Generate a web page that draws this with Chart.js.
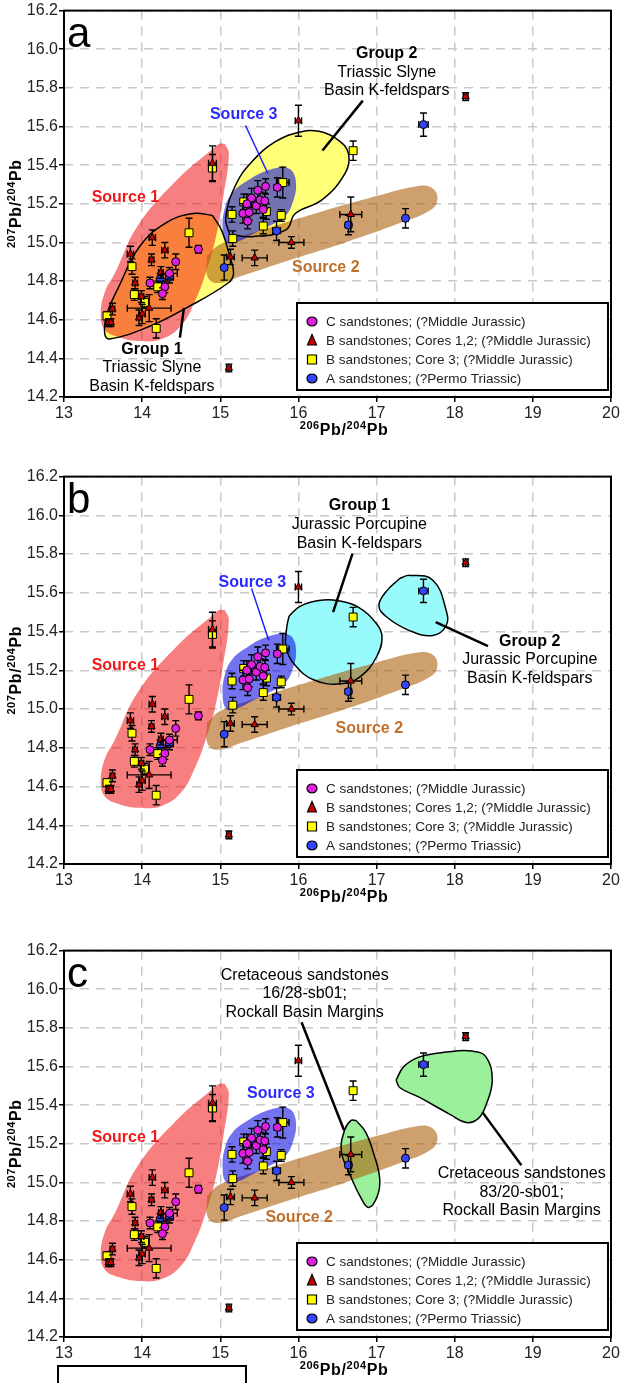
<!DOCTYPE html>
<html><head><meta charset="utf-8">
<script src="https://cdn.jsdelivr.net/npm/chart.js@4.4.0/dist/chart.umd.min.js"></script>
<style>
html,body{margin:0;padding:0;background:#fff;}
body{width:624px;height:1383px;position:relative;overflow:hidden;}
canvas{position:absolute;left:0;}
#box{position:absolute;left:57px;top:1365px;width:186px;height:40px;border:2px solid #000;}
</style></head><body>
<canvas id="ca" width="624" height="462" style="top:0px"></canvas>
<canvas id="cb" width="624" height="462" style="top:466px"></canvas>
<canvas id="cc" width="624" height="443" style="top:940px"></canvas>
<div id="box"></div>
<script>
// ---------- axes ----------
const xMin = 13, xMax = 20, xStep = 1;
const yMin = 14.2, yMax = 16.2, yStep = 0.2;
const xTitleParts = [['206', 1], ['Pb/', 0], ['204', 1], ['Pb', 0]];
const yTitleParts = [['207', 1], ['Pb/', 0], ['204', 1], ['Pb', 0]];

const legendLabels = [
  'C sandstones; (?Middle Jurassic)',
  'B sandstones; Cores 1,2; (?Middle Jurassic)',
  'B sandstones; Core 3; (?Middle Jurassic)',
  'A sandstones; (?Permo Triassic)'
];

// ---------- C sandstones (magenta circles) ----------
const cX  = [14.72,14.43,14.35,14.10,14.29,14.26,15.73,15.58,15.48,15.40,15.34,15.29,15.37,15.35,15.46,15.51,15.57,15.55];
const cY  = [14.965,14.90,14.84,14.79,14.77,14.735,15.285,15.29,15.27,15.23,15.20,15.15,15.155,15.11,15.19,15.22,15.215,15.17];
const cXe = [0.03,0.03,0.10,0.03,0.03,0.03,0.04,0.03,0.03,0.03,0.03,0.03,0.03,0.03,0.03,0.03,0.03,0.03];
const cYe = [0.02,0.04,0.03,0.03,0.03,0.03,0.05,0.04,0.05,0.05,0.05,0.05,0.04,0.04,0.04,0.04,0.04,0.04];

// ---------- B sandstones cores 1,2 (red triangles) ----------
const bX  = [14.90,14.13,14.29,13.85,14.12,14.24,13.91,13.99,14.09,13.62,13.57,13.60,13.96,14.00,15.11,16.00,15.13,15.44,15.91,16.67,18.14];
const bY  = [15.41,15.025,14.96,14.94,14.91,14.845,14.79,14.72,14.66,14.655,14.585,14.585,14.61,14.63,14.35,15.63,14.925,14.92,15.00,15.145,15.755];
const bXe = [0.05,0.04,0.04,0.04,0.03,0.03,0.03,0.03,0.28,0.03,0.03,0.03,0.03,0.04,0.03,0.04,0.05,0.16,0.16,0.14,0.03];
const bYe = [0.09,0.04,0.04,0.04,0.03,0.03,0.03,0.03,0.07,0.03,0.02,0.02,0.04,0.05,0.02,0.08,0.04,0.04,0.03,0.09,0.02];

// ---------- B sandstones core 3 (yellow squares) ----------
const sX  = [14.90,14.60,13.87,14.20,13.90,14.03,13.55,14.18,15.15,15.16,15.78,15.55,15.80,15.30,15.59,16.70];
const sY  = [15.385,15.05,14.875,14.77,14.73,14.69,14.62,14.555,15.145,15.02,15.14,15.085,15.31,15.21,15.16,15.475];
const sXe = [0.05,0.03,0.03,0.03,0.03,0.03,0.03,0.04,0.03,0.03,0.03,0.04,0.08,0.04,0.04,0.04];
const sYe = [0.07,0.075,0.04,0.03,0.03,0.03,0.02,0.05,0.04,0.04,0.03,0.04,0.08,0.04,0.04,0.05];

// ---------- A sandstones (blue circles) ----------
const aX  = [14.23,14.35,15.05,15.72,16.64,17.37,17.60];
const aY  = [14.81,14.82,14.87,15.06,15.09,15.125,15.61];
const aXe = [0.03,0.05,0.03,0.05,0.04,0.03,0.06];
const aYe = [0.03,0.03,0.065,0.05,0.05,0.05,0.06];

// ---------- field outlines (data units) ----------
const source1 = [[15.06,15.51],[15.11,15.46],[15.04,15.24],[14.94,15.02],[14.82,14.85],[14.68,14.70],[14.50,14.57],[14.25,14.50],[13.95,14.49],[13.70,14.51],[13.52,14.55],[13.47,14.63],[13.52,14.74],[13.65,14.84],[13.95,15.09],[14.46,15.33],[14.89,15.48],[14.98,15.51]];
const source2 = [[14.83,14.93],[15.0,14.99],[15.5,15.06],[16.3,15.16],[17.0,15.24],[17.5,15.29],[17.70,15.285],[17.78,15.23],[17.70,15.17],[17.3,15.10],[16.6,15.00],[15.9,14.91],[15.3,14.83],[14.97,14.79],[14.84,14.82]];
const source3 = [[15.80,15.395],[15.92,15.37],[15.97,15.30],[15.93,15.21],[15.84,15.14],[15.65,15.09],[15.45,15.05],[15.20,15.00],[15.08,15.00],[15.03,15.07],[15.06,15.18],[15.16,15.26],[15.35,15.32],[15.55,15.365]];
const slyne1  = [[14.90,15.14],[15.02,15.06],[15.12,14.93],[15.17,14.84],[15.10,14.79],[14.56,14.66],[14.09,14.565],[13.58,14.50],[13.52,14.53],[13.55,14.63],[13.70,14.77],[13.97,14.98],[14.30,15.10],[14.65,15.15]];
const slyne2  = [[15.12,15.04],[15.07,15.13],[15.20,15.30],[15.41,15.42],[15.70,15.52],[16.01,15.57],[16.26,15.575],[16.51,15.53],[16.64,15.46],[16.60,15.36],[16.30,15.22],[15.96,15.15],[15.84,15.065],[15.41,15.03]];
const porc1   = [[15.88,15.48],[16.02,15.53],[16.26,15.56],[16.50,15.56],[16.75,15.53],[17.00,15.44],[17.07,15.37],[17.00,15.27],[16.80,15.17],[16.55,15.13],[16.20,15.15],[15.95,15.23],[15.84,15.32],[15.85,15.42]];
const porc2   = [[17.30,15.675],[17.42,15.69],[17.72,15.665],[17.89,15.51],[17.89,15.43],[17.72,15.38],[17.42,15.405],[17.13,15.475],[17.03,15.535],[17.13,15.61]];
const creta1  = [[16.74,15.32],[16.86,15.26],[16.97,15.14],[17.04,15.02],[17.01,14.93],[16.90,14.87],[16.80,14.92],[16.66,15.04],[16.55,15.16],[16.59,15.27],[16.67,15.32]];
const creta2  = [[17.25,15.53],[17.35,15.60],[17.55,15.65],[17.90,15.675],[18.22,15.68],[18.40,15.65],[18.48,15.53],[18.40,15.40],[18.30,15.33],[18.15,15.31],[17.95,15.35],[17.55,15.44],[17.30,15.49]];

// ---------- styles ----------
const FONT = '"Liberation Sans", Arial, sans-serif';
const COL = {
  yellowFill: '#ffff78', red: 'rgba(242,0,0,0.5)', blue: 'rgba(0,0,225,0.55)',
  brown: 'rgba(172,97,13,0.6)', cyan: 'rgb(152,250,250)', green: 'rgb(155,240,155)',
  s1Text: '#f01818', s2Text: '#c0702a', s3Text: '#2a2aff'
};

function pts(xs, ys) { return xs.map((x, i) => ({x: x, y: ys[i]})); }
function shapeDs(pairs, fillColor, borderColor, borderWidth, order) {
  const d = pairs.map(p => ({x: p[0], y: p[1]}));
  d.push({x: pairs[0][0], y: pairs[0][1]});
  return {
    type: 'line', data: d, fill: fillColor ? 'shape' : false,
    backgroundColor: fillColor || 'rgba(0,0,0,0)',
    borderColor: borderColor || 'rgba(0,0,0,0)', borderWidth: borderWidth || 0,
    tension: 0.42, pointRadius: 0, pointHoverRadius: 0, pointHitRadius: 0,
    showLine: true, order: order, isShape: true
  };
}
function pointDatasets() {
  return [
    {label: legendLabels[0], data: pts(cX, cY), errX: cXe, errY: cYe, pointStyle: 'circle', pointRadius: 4,
     backgroundColor: '#e020e0', borderColor: '#000', borderWidth: 1, showLine: false, order: 0, mk: 'circle'},
    {label: legendLabels[1], data: pts(bX, bY), errX: bXe, errY: bYe, pointStyle: 'triangle', pointRadius: 4.2,
     backgroundColor: '#cc0000', borderColor: '#000', borderWidth: 1, showLine: false, order: 1, mk: 'triangle'},
    {label: legendLabels[2], data: pts(sX, sY), errX: sXe, errY: sYe, pointStyle: 'rect', pointRadius: 5.6,
     backgroundColor: '#ffff00', borderColor: '#000', borderWidth: 1, showLine: false, order: 2, mk: 'rect'},
    {label: legendLabels[3], data: pts(aX, aY), errX: aXe, errY: aYe, pointStyle: 'circle', pointRadius: 4,
     backgroundColor: '#3344ff', borderColor: '#000', borderWidth: 1, showLine: false, order: 3, mk: 'circle'}
  ];
}

const errorBarPlugin = {
  id: 'errbars',
  beforeDatasetDraw(chart, args) {
    const ds = chart.data.datasets[args.index];
    if (!ds.errX) return;
    const xs = chart.scales.x, ys = chart.scales.y, ctx = chart.ctx, a = chart.chartArea;
    ctx.save();
    ctx.beginPath(); ctx.rect(a.left, a.top, a.right - a.left, a.bottom - a.top); ctx.clip();
    ctx.strokeStyle = '#000'; ctx.lineWidth = 1.4;
    const cap = 3.5;
    ds.data.forEach((p, i) => {
      const px = xs.getPixelForValue(p.x), py = ys.getPixelForValue(p.y);
      const x1 = xs.getPixelForValue(p.x - ds.errX[i]), x2 = xs.getPixelForValue(p.x + ds.errX[i]);
      const y1 = ys.getPixelForValue(p.y - ds.errY[i]), y2 = ys.getPixelForValue(p.y + ds.errY[i]);
      ctx.beginPath();
      ctx.moveTo(x1, py); ctx.lineTo(x2, py);
      ctx.moveTo(x1, py - cap); ctx.lineTo(x1, py + cap);
      ctx.moveTo(x2, py - cap); ctx.lineTo(x2, py + cap);
      ctx.moveTo(px, y1); ctx.lineTo(px, y2);
      ctx.moveTo(px - cap, y1); ctx.lineTo(px + cap, y1);
      ctx.moveTo(px - cap, y2); ctx.lineTo(px + cap, y2);
      ctx.stroke();
    });
    ctx.restore();
  }
};

function drawMarker(ctx, mk, color, x, y) {
  ctx.fillStyle = color; ctx.strokeStyle = '#000'; ctx.lineWidth = 1.2;
  ctx.beginPath();
  if (mk === 'circle') { ctx.ellipse(x, y, 5, 4.5, 0, 0, Math.PI * 2); }
  else if (mk === 'rect') { ctx.rect(x - 4.5, y - 4.5, 9, 9); }
  else { ctx.moveTo(x, y - 6); ctx.lineTo(x + 4.5, y + 4.5); ctx.lineTo(x - 4.5, y + 4.5); ctx.closePath(); }
  ctx.fill(); ctx.stroke();
}

function richText(ctx, parts, cx, cy) {
  const items = parts.map(p => ({t: p[0], s: p[1]}));
  if ('letterSpacing' in ctx) ctx.letterSpacing = '0.6px';
  let w = 0;
  items.forEach(p => { ctx.font = p.s ? 'bold 11px ' + FONT : 'bold 16px ' + FONT; p.w = ctx.measureText(p.t).width; w += p.w; });
  let x = cx - w / 2;
  ctx.textAlign = 'left'; ctx.textBaseline = 'middle'; ctx.fillStyle = '#000';
  items.forEach(p => { ctx.font = p.s ? 'bold 11px ' + FONT : 'bold 16px ' + FONT; ctx.fillText(p.t, x, cy + (p.s ? -4 : 1)); x += p.w; });
  if ('letterSpacing' in ctx) ctx.letterSpacing = '0px';
}

const decorPlugin = {
  id: 'decor',
  afterDraw(chart) {
    const cfg = chart.options.plugins.decor;
    const ctx = chart.ctx, a = chart.chartArea, xs = chart.scales.x, ys = chart.scales.y;
    ctx.save();
    // leaders
    cfg.leaders.forEach(l => {
      ctx.strokeStyle = l[4]; ctx.lineWidth = l[5];
      ctx.beginPath();
      ctx.moveTo(xs.getPixelForValue(l[0]), ys.getPixelForValue(l[1]));
      ctx.lineTo(xs.getPixelForValue(l[2]), ys.getPixelForValue(l[3]));
      ctx.stroke();
    });
    // labels
    ctx.textAlign = 'center'; ctx.textBaseline = 'middle';
    cfg.labels.forEach(l => {
      ctx.font = (l.b ? 'bold ' : '') + '16px ' + FONT;
      ctx.fillStyle = l.c || '#000';
      ctx.fillText(l.t, xs.getPixelForValue(l.x), ys.getPixelForValue(l.y));
    });
    // frame
    ctx.strokeStyle = '#000'; ctx.lineWidth = 2;
    ctx.strokeRect(a.left, a.top, a.right - a.left, a.bottom - a.top);
    // legend
    const lx = a.left + 233, lr = a.right - 3, lb = a.bottom - 7, lt = lb - 87;
    ctx.fillStyle = '#fff'; ctx.fillRect(lx, lt, lr - lx, lb - lt);
    ctx.strokeRect(lx, lt, lr - lx, lb - lt);
    const pds = chart.data.datasets.filter(d => !d.isShape);
    pds.forEach((d, i) => {
      const yy = lt + 18.5 + i * 19;
      drawMarker(ctx, d.mk, d.backgroundColor, lx + 15, yy);
      ctx.font = '13.5px ' + FONT; ctx.fillStyle = '#222'; ctx.textAlign = 'left'; ctx.textBaseline = 'middle';
      ctx.fillText(d.label, lx + 29, yy + 0.5);
    });
    // panel letter
    ctx.font = '42px ' + FONT; ctx.fillStyle = '#000'; ctx.textAlign = 'left'; ctx.textBaseline = 'alphabetic';
    ctx.fillText(cfg.letter, a.left + 3, a.top + 36);
    // axis titles
    richText(ctx, xTitleParts, 344, a.bottom + 33);
    ctx.save();
    ctx.translate(16, (a.top + a.bottom) / 2);
    ctx.rotate(-Math.PI / 2);
    richText(ctx, yTitleParts, 0, 0);
    ctx.restore();
    ctx.restore();
  }
};

function makeChart(id, H, bottom, shapes, decor) {
  const ctx = document.getElementById(id);
  return new Chart(ctx, {
    type: 'scatter',
    data: {datasets: pointDatasets().concat(shapes)},
    options: {
      responsive: false, animation: false, devicePixelRatio: 1, events: [],
      layout: {padding: {top: 10, right: 13, left: 0, bottom: 0}},
      plugins: {legend: {display: false}, tooltip: {enabled: false}, decor: decor},
      scales: {
        x: {
          type: 'linear', min: xMin, max: xMax,
          ticks: {stepSize: xStep, font: {family: FONT, size: 16}, color: '#222', padding: 2, maxRotation: 0},
          grid: {color: '#c8c8c8', lineWidth: 1.5, tickColor: '#000', tickLength: 5, tickWidth: 1.5},
          border: {display: false, dash: [9, 7]},
          afterFit(s) { s.height = H - bottom; }
        },
        y: {
          type: 'linear', min: yMin, max: yMax,
          ticks: {stepSize: yStep, font: {family: FONT, size: 16}, color: '#222', padding: 1,
                  callback: v => Number(v).toFixed(1)},
          grid: {color: '#c8c8c8', lineWidth: 1.5, tickColor: '#000', tickLength: 5, tickWidth: 1.5},
          border: {display: false, dash: [9, 7]},
          afterFit(s) { s.width = 64; }
        }
      }
    },
    plugins: [errorBarPlugin, decorPlugin]
  });
}

const blueLead = '#2020ff', blk = '#000';

// Panel a
makeChart('ca', 462, 397, [
  shapeDs(slyne1, COL.yellowFill, null, 0, 40),
  shapeDs(slyne2, COL.yellowFill, null, 0, 39),
  shapeDs(source1, COL.red, null, 0, 35),
  shapeDs(source2, COL.brown, null, 0, 34),
  shapeDs(source3, COL.blue, null, 0, 33),
  shapeDs(slyne1, null, '#000', 1.5, 20),
  shapeDs(slyne2, null, '#000', 1.5, 19)
], {
  letter: 'a',
  labels: [
    {t: 'Source 1', x: 13.786, y: 15.234, b: 1, c: COL.s1Text},
    {t: 'Source 3', x: 15.30, y: 15.661, b: 1, c: COL.s3Text},
    {t: 'Source 2', x: 16.35, y: 14.868, b: 1, c: COL.s2Text},
    {t: 'Group 1', x: 14.125, y: 14.445, b: 1},
    {t: 'Triassic Slyne', x: 14.125, y: 14.352},
    {t: 'Basin K-feldspars', x: 14.125, y: 14.254},
    {t: 'Group 2', x: 17.13, y: 15.976, b: 1},
    {t: 'Triassic Slyne', x: 17.13, y: 15.878},
    {t: 'Basin K-feldspars', x: 17.13, y: 15.785}
  ],
  leaders: [
    [15.323, 15.605, 15.609, 15.357, blueLead, 1.5],
    [14.535, 14.661, 14.483, 14.507, blk, 2.5],
    [16.824, 15.734, 16.308, 15.476, blk, 2.5]
  ]
});

// Panel b
makeChart('cb', 462, 398, [
  shapeDs(porc1, COL.cyan, null, 0, 40),
  shapeDs(porc2, COL.cyan, null, 0, 39),
  shapeDs(source1, COL.red, null, 0, 35),
  shapeDs(source2, COL.brown, null, 0, 34),
  shapeDs(source3, COL.blue, null, 0, 33),
  shapeDs(porc1, null, '#000', 1.5, 20),
  shapeDs(porc2, null, '#000', 1.5, 19)
], {
  letter: 'b',
  labels: [
    {t: 'Source 3', x: 15.41, y: 15.654, b: 1, c: COL.s3Text},
    {t: 'Source 1', x: 13.786, y: 15.226, b: 1, c: COL.s1Text},
    {t: 'Source 2', x: 16.907, y: 14.901, b: 1, c: COL.s2Text},
    {t: 'Group 1', x: 16.78, y: 16.05, b: 1},
    {t: 'Jurassic Porcupine', x: 16.78, y: 15.953},
    {t: 'Basin K-feldspars', x: 16.78, y: 15.855},
    {t: 'Group 2', x: 18.96, y: 15.346, b: 1},
    {t: 'Jurassic Porcupine', x: 18.96, y: 15.257},
    {t: 'Basin K-feldspars', x: 18.96, y: 15.159}
  ],
  leaders: [
    [15.40, 15.623, 15.62, 15.355, blueLead, 1.5],
    [16.692, 15.802, 16.444, 15.50, blk, 2.5],
    [17.757, 15.449, 18.426, 15.325, blk, 2.5]
  ]
});

// Panel c
makeChart('cc', 443, 397, [
  shapeDs(creta1, COL.green, null, 0, 40),
  shapeDs(creta2, COL.green, null, 0, 39),
  shapeDs(source1, COL.red, null, 0, 35),
  shapeDs(source2, COL.brown, null, 0, 34),
  shapeDs(source3, COL.blue, null, 0, 33),
  shapeDs(creta1, null, '#000', 1.5, 20),
  shapeDs(creta2, null, '#000', 1.5, 19)
], {
  letter: 'c',
  labels: [
    {t: 'Cretaceous sandstones', x: 16.08, y: 16.071},
    {t: '16/28-sb01;', x: 16.08, y: 15.978},
    {t: 'Rockall Basin Margins', x: 16.08, y: 15.880},
    {t: 'Source 3', x: 15.775, y: 15.461, b: 1, c: COL.s3Text},
    {t: 'Source 1', x: 13.786, y: 15.234, b: 1, c: COL.s1Text},
    {t: 'Source 2', x: 16.01, y: 14.82, b: 1, c: COL.s2Text},
    {t: 'Cretaceous sandstones', x: 18.857, y: 15.048},
    {t: '83/20-sb01;', x: 18.857, y: 14.95},
    {t: 'Rockall Basin Margins', x: 18.857, y: 14.856}
  ],
  leaders: [
    [16.04, 15.829, 16.584, 15.27, blk, 2.5],
    [18.354, 15.364, 18.853, 15.089, blk, 2.5]
  ]
});
</script>
</body></html>
